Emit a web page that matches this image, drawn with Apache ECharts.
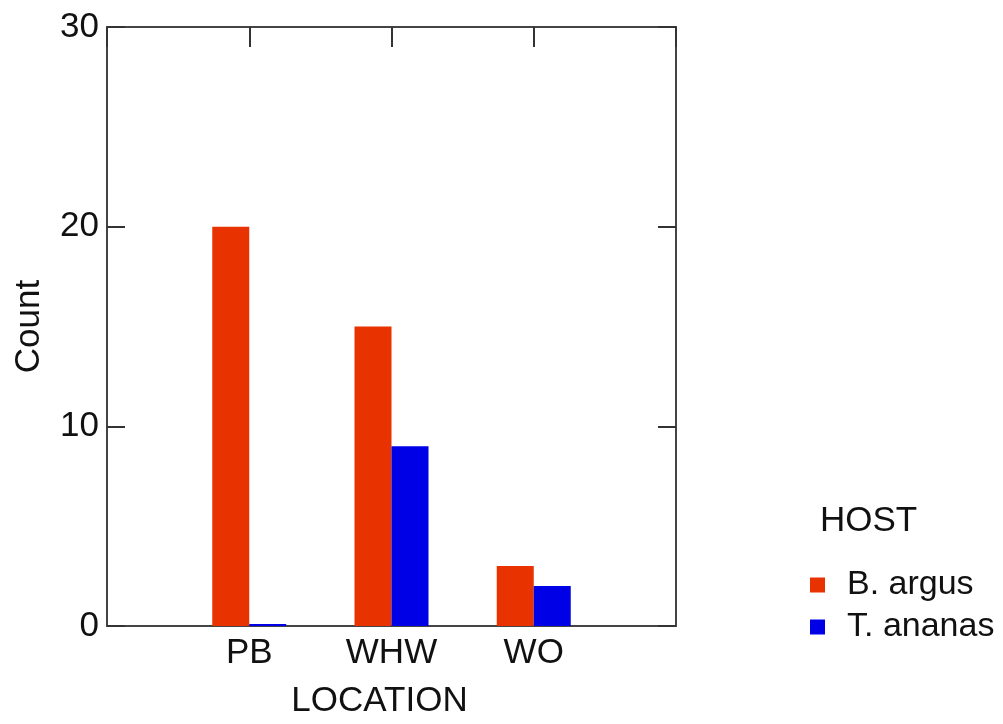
<!DOCTYPE html>
<html>
<head>
<meta charset="utf-8">
<script src="https://cdn.jsdelivr.net/npm/echarts@6/dist/echarts.min.js"></script>
<style>
  html, body { margin: 0; padding: 0; background: #fff; }
  #chart { width: 1003px; height: 724px; }
</style>
</head>
<body>
<div id="chart"></div>
<script>
// padded categories so the three locations sit at 1, 2, 3 of a 0..4 span
const locations = ['', 'PB', 'WHW', 'WO', ''];
const argusCounts = [null, 20, 15, 3, null];
const ananasCounts = [null, 0, 9, 2, null];
const countTicks = { min: 0, max: 30, interval: 10 };

const font = 'Liberation Sans, Arial, sans-serif';
const axisLine = { show: true, onZero: false, lineStyle: { color: '#444', width: 2 } };
const tickStyle = { color: '#333', width: 2 };

const chart = echarts.init(document.getElementById('chart'));

chart.setOption({
  animation: false,
  title: {
    text: 'HOST',
    left: 820,
    top: 504,
    padding: 0,
    textStyle: { fontFamily: font, fontSize: 35, fontWeight: 'normal', color: '#111' }
  },
  legend: {
    orient: 'vertical',
    left: 810,
    top: 568,
    padding: 0,
    itemWidth: 15,
    itemHeight: 15,
    itemGap: 8,
    icon: 'rect',
    textStyle: { fontFamily: font, fontSize: 34, color: '#111', padding: [0, 0, 0, 17] },
    data: ['B. argus', 'T. ananas']
  },
  grid: { left: 107, top: 27, right: 327, bottom: 97 },
  xAxis: [
    {
      type: 'category',
      data: locations,
      boundaryGap: false,
      position: 'bottom',
      axisLine,
      axisTick: { show: false },
      axisLabel: { fontFamily: font, fontSize: 35, color: '#111', margin: 10 },
      name: 'LOCATION',
      nameLocation: 'middle',
      nameGap: 58,
      nameTextStyle: { fontFamily: font, fontSize: 35, color: '#111', padding: [0, 24, 0, 0] }
    },
    {
      type: 'category',
      data: locations,
      boundaryGap: false,
      position: 'top',
      axisLine,
      axisTick: { show: true, inside: true, length: 20, lineStyle: tickStyle },
      axisLabel: { show: false }
    }
  ],
  yAxis: [
    {
      type: 'value',
      ...countTicks,
      position: 'left',
      axisLine,
      axisTick: { show: true, inside: true, length: 18, lineStyle: tickStyle },
      axisLabel: { fontFamily: font, fontSize: 35, color: '#111', margin: 8 },
      splitLine: { show: false },
      name: 'Count',
      nameLocation: 'middle',
      nameGap: 60,
      nameTextStyle: { fontFamily: font, fontSize: 35, color: '#111' }
    },
    {
      type: 'value',
      ...countTicks,
      position: 'right',
      axisLine,
      axisTick: { show: true, inside: true, length: 18, lineStyle: tickStyle },
      axisLabel: { show: false },
      splitLine: { show: false }
    }
  ],
  series: [
    {
      name: 'B. argus',
      type: 'bar',
      data: argusCounts,
      barWidth: 37,
      barGap: '0%',
      itemStyle: { color: '#e83300' }
    },
    {
      name: 'T. ananas',
      type: 'bar',
      data: ananasCounts,
      barWidth: 37,
      barGap: '0%',
      barMinHeight: 2,
      itemStyle: { color: '#0000e6' }
    }
  ]
});
</script>
</body>
</html>
